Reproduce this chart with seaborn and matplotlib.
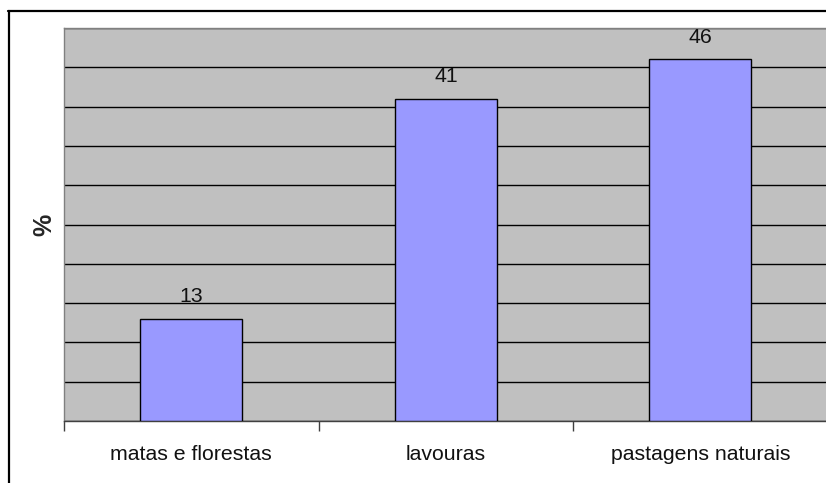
import numpy as np
import matplotlib
matplotlib.use('Agg')
import matplotlib.pyplot as plt
from matplotlib.lines import Line2D
import seaborn as sns
import pandas as pd

categorias = ['matas e florestas', 'lavouras', 'pastagens naturais']
valores = [13, 41, 46]

sns.set_style('white')
plt.rcParams['font.family'] = ['Liberation Sans', 'DejaVu Sans']

df = pd.DataFrame({'cat': categorias, 'val': valores})

fig = plt.figure(figsize=(8.26, 4.83), dpi=100)
ax = fig.add_axes([64 / 826, 1 - 421 / 483, 1 - 64 / 826 + 0.002, (421 - 28) / 483])

sns.barplot(data=df, x='cat', y='val', color='#9999FF', width=0.4,
            edgecolor='black', linewidth=1, saturation=1, ax=ax, zorder=3)

ax.set_facecolor('#C0C0C0')
ax.set_ylim(0, 50)
ax.set_xlim(-0.5, 2.5)
ax.set_yticks(np.arange(0, 51, 5))
ax.set_yticklabels([])
ax.tick_params(axis='y', length=0)
ax.yaxis.grid(True, color='black', linewidth=1)
ax.set_axisbelow(True)

ax.set_xticks(range(3))
ax.set_xticklabels(categorias, fontsize=15.3, color='#111111')
ax.tick_params(axis='x', which='major', length=0, pad=17)
ax.set_xticks([-0.5, 0.5, 1.5, 2.5], minor=True)
ax.tick_params(axis='x', which='minor', bottom=True, length=7, width=1,
               color='#404040', direction='out')

for s in ['top', 'left', 'right']:
    ax.spines[s].set_color('#808080')
    ax.spines[s].set_linewidth(1)
ax.spines['bottom'].set_color('#404040')
ax.spines['bottom'].set_linewidth(1)

ax.set_xlabel('')
ax.set_ylabel('%', fontsize=18, fontweight='bold', labelpad=2, rotation=90)

for c in ax.containers:
    ax.bar_label(c, fontsize=15.3, padding=9, color='#111111')

# outer chart border
fig.add_artist(Line2D([8.5 / 826, 8.5 / 826], [0, 1 - 11 / 483], color='black', linewidth=1.6, transform=fig.transFigure))
fig.add_artist(Line2D([8 / 826, 1], [1 - 11 / 483, 1 - 11 / 483], color='black', linewidth=1.6, transform=fig.transFigure))

fig.savefig('out.png', dpi=100)
